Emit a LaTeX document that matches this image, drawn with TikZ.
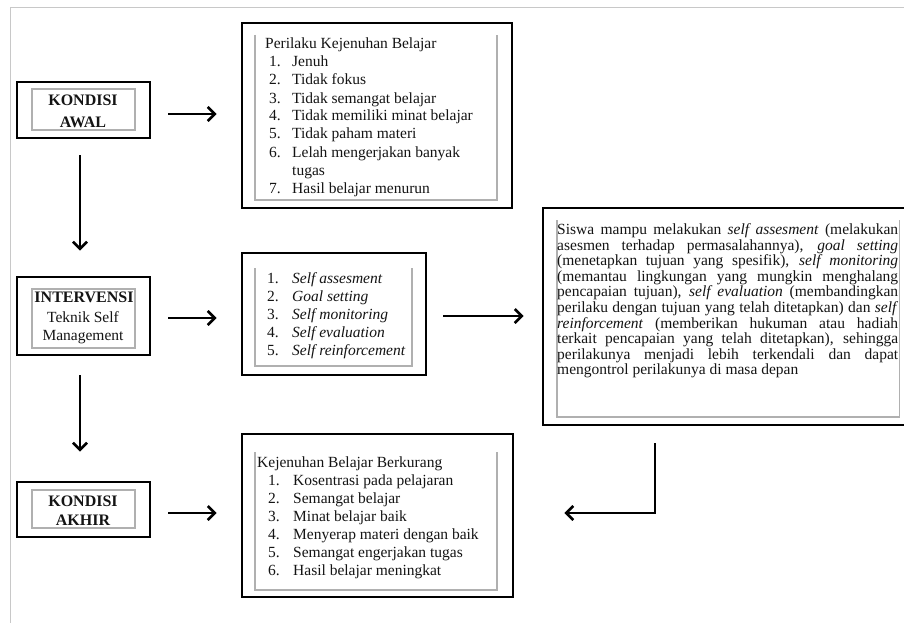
\documentclass[tikz,border=0pt]{standalone}
\usepackage{fontspec}
\setmainfont{Liberation Serif}
\usetikzlibrary{arrows.meta}
\definecolor{txt}{HTML}{141414}
\definecolor{innergray}{HTML}{B0B0B0}
\definecolor{framegray}{HTML}{C8C8C8}
\tikzset{
  outerbox/.style={draw=black, line width=2.7pt, inner sep=0pt},
  innerbox/.style={draw=innergray, line width=1.2pt},
  arr/.style={line width=2.7pt, -{Straight Barb[length=7pt,width=14pt]}},
  lbl/.style={inner sep=0pt, anchor=base west, text=txt, font=\fontsize{15.5}{18}\selectfont},
  headtxt/.style={inner sep=0pt, anchor=base, text=txt, font=\fontsize{16}{18}\selectfont\bfseries},
  subtxt/.style={inner sep=0pt, anchor=base, text=txt, font=\fontsize{15.5}{18}\selectfont},
  paratxt/.style={inner sep=0pt, anchor=base west, text=txt, font=\fontsize{15.5}{15.6}\selectfont},
}
\newcommand{\jline}[1]{\makebox[341pt][s]{#1}}
\begin{document}
\begin{tikzpicture}[x=1pt,y=-1pt]
\useasboundingbox (0,0) rectangle (904,623);
\fill[white] (0,0) rectangle (904,623);
% frame
\draw[framegray, line width=1pt] (10,630) -- (10,8) -- (910,8);

% outer boxes
\node[outerbox, minimum width=133pt, minimum height=56pt] (awal) at (83.5,110) {};
\node[outerbox, minimum width=133pt, minimum height=78pt] (interv) at (83.5,316) {};
\node[outerbox, minimum width=133pt, minimum height=55pt] (akhir) at (83.5,509.5) {};
\node[outerbox, minimum width=270pt, minimum height=185pt] (perilaku) at (377,115.5) {};
\node[outerbox, minimum width=184pt, minimum height=122pt] (self) at (334,314) {};
\node[outerbox, minimum width=372pt, minimum height=217pt] (para) at (729,316.5) {};
\node[outerbox, minimum width=271pt, minimum height=163pt] (kejen) at (377.5,515.5) {};

% inner gray boxes
\draw[innerbox] (32,89) rectangle (135,130);
\draw[innerbox] (32,289) rectangle (135,348);
\draw[innerbox] (32,490) rectangle (135,528);
\draw[innerbox] (255,35) -- (255,200) -- (497,200) -- (497,35);
\draw[innerbox] (255,268) -- (255,366) -- (412,366) -- (412,268);
\draw[innerbox] (557,220) -- (557,417) -- (899.5,417) -- (899.5,220);
\draw[innerbox] (255,452) -- (255,590) -- (497,590) -- (497,452);

% left column texts
\node[headtxt] (awal1) at (83,105.5) {KONDISI};
\node[headtxt] (awal2) at (83,127.5) {AWAL};
\node[headtxt] (int1) at (84,302.5) {INTERVENSI};
\node[subtxt] (int2) at (83,322) {Teknik Self};
\node[subtxt] (int3) at (83,340) {Management};
\node[headtxt] (akh1) at (83,506.5) {KONDISI};
\node[headtxt] (akh2) at (83,525.5) {AKHIR};

% perilaku list
\node[lbl] (ptitle) at (265,49) {Perilaku Kejenuhan Belajar};
\foreach \n/\t/\y in {1/Jenuh/67, 2/Tidak fokus/85, 3/Tidak semangat belajar/103,
  4/Tidak memiliki minat belajar/121, 5/Tidak paham materi/139,
  6/Lelah mengerjakan banyak/157, 7/Hasil belajar menurun/193}{
  \node[lbl] (pn\n) at (269,\y) {\n.};
  \node[lbl] (pi\n) at (292,\y) {\t};
}
\node[lbl] (pi6b) at (292,175) {tugas};

% self list
\foreach \n/\t/\y in {1/Self assesment/283, 2/Goal setting/301, 3/Self monitoring/319,
  4/Self evaluation/337, 5/Self reinforcement/355}{
  \node[lbl] (sn\n) at (267,\y) {\n.};
  \node[lbl] (si\n) at (292,\y) {\itshape\t};
}

% kejenuhan list
\node[lbl] (ktitle) at (257,467) {Kejenuhan Belajar Berkurang};
\foreach \n/\t/\y in {1/Kosentrasi pada pelajaran/485, 2/Semangat belajar/503,
  3/Minat belajar baik/521, 4/Menyerap materi dengan baik/539,
  5/Semangat engerjakan tugas/557, 6/Hasil belajar meningkat/575}{
  \node[lbl] (kn\n) at (268,\y) {\n.};
  \node[lbl] (ki\n) at (293,\y) {\t};
}

% paragraph
\node[paratxt] (l1) at (557,234.5) {\jline{Siswa mampu melakukan \textit{self assesment} (melakukan}};
\node[paratxt] (l2) at (557,250.1) {\jline{asesmen terhadap permasalahannya), \textit{goal setting}}};
\node[paratxt] (l3) at (557,265.7) {\jline{(menetapkan tujuan yang spesifik), \textit{self monitoring}}};
\node[paratxt] (l4) at (557,281.3) {\jline{(memantau lingkungan yang mungkin menghalang}};
\node[paratxt] (l5) at (557,296.9) {\jline{pencapaian tujuan), \textit{self evaluation} (membandingkan}};
\node[paratxt] (l6) at (557,312.5) {\jline{perilaku dengan tujuan yang telah ditetapkan) dan \textit{self}}};
\node[paratxt] (l7) at (557,328.1) {\jline{\textit{reinforcement} (memberikan hukuman atau hadiah}};
\node[paratxt] (l8) at (557,343.7) {\jline{terkait pencapaian yang telah ditetapkan), sehingga}};
\node[paratxt] (l9) at (557,359.3) {\jline{perilakunya menjadi lebih terkendali dan dapat}};
\node[paratxt] (l10) at (557,374.9) {mengontrol perilakunya di masa depan};

% connectors
\draw[arr, shorten <=17pt, shorten >=24pt] ([yshift=-4pt]awal.east) -- ([yshift=-4pt]awal.east -| perilaku.west);
\draw[arr, shorten <=17pt, shorten >=24pt] ([yshift=-2pt]interv.east) -- ([yshift=-2pt]interv.east -| self.west);
\draw[arr, shorten <=17pt, shorten >=24pt] ([yshift=-3.5pt]akhir.east) -- ([yshift=-3.5pt]akhir.east -| kejen.west);
\draw[arr, shorten <=16pt, shorten >=18pt] ([yshift=-2pt]self.east) -- ([yshift=-2pt]self.east -| para.west);
\draw[arr, shorten <=16pt, shorten >=25pt] ([xshift=-3.5pt]awal.south) -- ([xshift=-3.5pt]awal.south |- interv.north);
\draw[arr, shorten <=19pt, shorten >=29pt] ([xshift=-3.5pt]interv.south) -- ([xshift=-3.5pt]interv.south |- akhir.north);
\draw[arr, shorten <=17pt, shorten >=50pt] ([xshift=-74pt]para.south) |- ([yshift=2.5pt]kejen.east);
\end{tikzpicture}
\end{document}
